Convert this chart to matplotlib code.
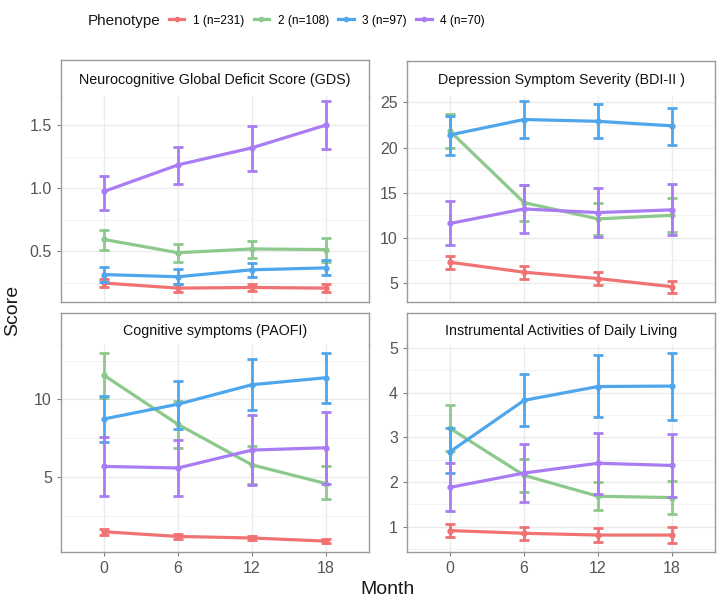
import matplotlib
matplotlib.use("Agg")
import matplotlib.pyplot as plt
from matplotlib.lines import Line2D
from matplotlib.ticker import MultipleLocator

plt.rcParams['font.family'] = ['Liberation Sans', 'DejaVu Sans']

months = [0, 6, 12, 18]
phenotypes = ['1 (n=231)', '2 (n=108)', '3 (n=97)', '4 (n=70)']
colors = ['#F07272', '#8DC98D', '#4EA6EC', '#A97CF3']

# Neurocognitive Global Deficit Score
gds_mean = [[0.25, 0.21, 0.215, 0.21],
            [0.595, 0.49, 0.52, 0.515],
            [0.317, 0.30, 0.355, 0.37],
            [0.975, 1.185, 1.32, 1.50]]
gds_lo = [[0.22, 0.18, 0.19, 0.18],
          [0.51, 0.42, 0.45, 0.42],
          [0.26, 0.24, 0.30, 0.31],
          [0.83, 1.03, 1.14, 1.31]]
gds_hi = [[0.28, 0.24, 0.245, 0.24],
          [0.67, 0.56, 0.58, 0.61],
          [0.38, 0.36, 0.41, 0.43],
          [1.10, 1.33, 1.49, 1.69]]

# Depression Symptom Severity (BDI-II)
bdi_mean = [[7.3, 6.2, 5.5, 4.6],
            [21.8, 13.9, 12.1, 12.5],
            [21.4, 23.1, 22.9, 22.4],
            [11.6, 13.2, 12.8, 13.1]]
bdi_lo = [[6.6, 5.5, 4.8, 3.9],
          [19.9, 11.9, 10.3, 10.6],
          [19.2, 21.0, 21.0, 20.3],
          [9.2, 10.5, 10.1, 10.3]]
bdi_hi = [[8.0, 6.9, 6.2, 5.2],
          [23.7, 15.9, 13.9, 14.4],
          [23.5, 25.2, 24.8, 24.4],
          [14.1, 15.9, 15.5, 16.0]]

# Cognitive symptoms (PAOFI)
paofi_mean = [[1.5, 1.2, 1.1, 0.9],
              [11.55, 8.4, 5.8, 4.6],
              [8.75, 9.7, 10.95, 11.4],
              [5.7, 5.6, 6.75, 6.9]]
paofi_lo = [[1.3, 1.05, 0.95, 0.75],
            [10.1, 6.9, 4.6, 3.6],
            [7.3, 8.1, 9.3, 9.8],
            [3.8, 3.8, 4.5, 4.6]]
paofi_hi = [[1.7, 1.35, 1.25, 1.05],
            [13.0, 9.9, 7.0, 5.7],
            [10.2, 11.2, 12.6, 13.0],
            [7.6, 7.4, 9.0, 9.2]]

# Instrumental Activities of Daily Living
iadl_mean = [[0.91, 0.85, 0.81, 0.81],
             [3.2, 2.15, 1.68, 1.65],
             [2.68, 3.83, 4.14, 4.15],
             [1.88, 2.2, 2.42, 2.37]]
iadl_lo = [[0.77, 0.70, 0.66, 0.63],
           [2.70, 1.78, 1.37, 1.28],
           [2.20, 3.25, 3.45, 3.40],
           [1.34, 1.55, 1.73, 1.66]]
iadl_hi = [[1.06, 1.00, 0.96, 1.00],
           [3.72, 2.52, 1.99, 2.02],
           [3.20, 4.42, 4.84, 4.90],
           [2.42, 2.86, 3.10, 3.08]]

panels = [
    ('Neurocognitive Global Deficit Score (GDS)', gds_mean, gds_lo, gds_hi,
     (0.10, 1.73), 0.5, [0.0847, 0.5008, 0.4278, 0.3405], 0.0595, False),
    ('Depression Symptom Severity (BDI-II )', bdi_mean, bdi_lo, bdi_hi,
     (2.9, 25.7), 5, [0.5653, 0.5008, 0.4278, 0.3405], 0.0578, False),
    ('Cognitive symptoms (PAOFI)', paofi_mean, paofi_lo, paofi_hi,
     (0.2, 13.5), 5, [0.0847, 0.0876, 0.4278, 0.3421], 0.0529, True),
    ('Instrumental Activities of Daily Living', iadl_mean, iadl_lo, iadl_hi,
     (0.43, 5.07), 1, [0.5653, 0.0876, 0.4278, 0.3421], 0.0529, True),
]

border = '#9A9A9A'
fig = plt.figure(figsize=(7.2, 6.05), dpi=100)

for title, mean, lo, hi, ylim, step, pos, strip_h, show_x in panels:
    ax = fig.add_axes(pos)
    for i in range(4):
        yerr = [[m - l for m, l in zip(mean[i], lo[i])],
                [h - m for m, h in zip(mean[i], hi[i])]]
        ax.errorbar(months, mean[i], yerr=yerr, color=colors[i], lw=2.3,
                    elinewidth=2.0, capsize=3.5, capthick=2.0,
                    marker='o', markersize=3.5, zorder=3 + i)
    ax.set_xlim(-3.5, 21.5)
    ax.set_ylim(*ylim)
    ax.set_xticks(months)
    ax.yaxis.set_major_locator(MultipleLocator(step))
    ax.yaxis.set_minor_locator(MultipleLocator(step / 2))
    ax.grid(which='major', color='#EBEBEB', lw=1.0)
    ax.grid(which='minor', axis='y', color='#F3F3F3', lw=0.7)
    ax.set_axisbelow(True)
    ax.tick_params(which='minor', length=0)
    ax.tick_params(colors='#7F7F7F', labelcolor='#555555', labelsize=11.5,
                   length=3, width=0.8)
    if not show_x:
        ax.tick_params(axis='x', length=0, labelbottom=False)
    for side in ['left', 'right', 'bottom']:
        ax.spines[side].set_color(border)
        ax.spines[side].set_linewidth(1.0)
    ax.spines['top'].set_visible(False)

    sx = fig.add_axes([pos[0], pos[1] + pos[3], pos[2], strip_h])
    sx.set_xticks([])
    sx.set_yticks([])
    for side in ['left', 'right', 'top']:
        sx.spines[side].set_color(border)
        sx.spines[side].set_linewidth(1.0)
    sx.spines['bottom'].set_visible(False)
    sx.text(0.5, 0.45, title, ha='center', va='center', fontsize=10.3,
            color='#111111', transform=sx.transAxes)

fig.text(0.018, 0.487, 'Score', rotation=90, ha='center', va='center',
         fontsize=14, color='#1A1A1A')
fig.text(0.5375, 0.025, 'Month', ha='center', va='center',
         fontsize=14, color='#1A1A1A')

fig.text(0.122, 0.966, 'Phenotype', ha='left', va='center', fontsize=11,
         color='#1A1A1A')
handles = [Line2D([], [], color=c, lw=2.3, marker='o', markersize=3)
           for c in colors]
fig.legend(handles, phenotypes, loc='center left',
           bbox_to_anchor=(0.228, 0.966), ncol=4, frameon=False,
           fontsize=8.6, handlelength=1.3, handletextpad=0.7,
           columnspacing=0.8, borderaxespad=0)

fig.savefig('out.png', dpi=100)
